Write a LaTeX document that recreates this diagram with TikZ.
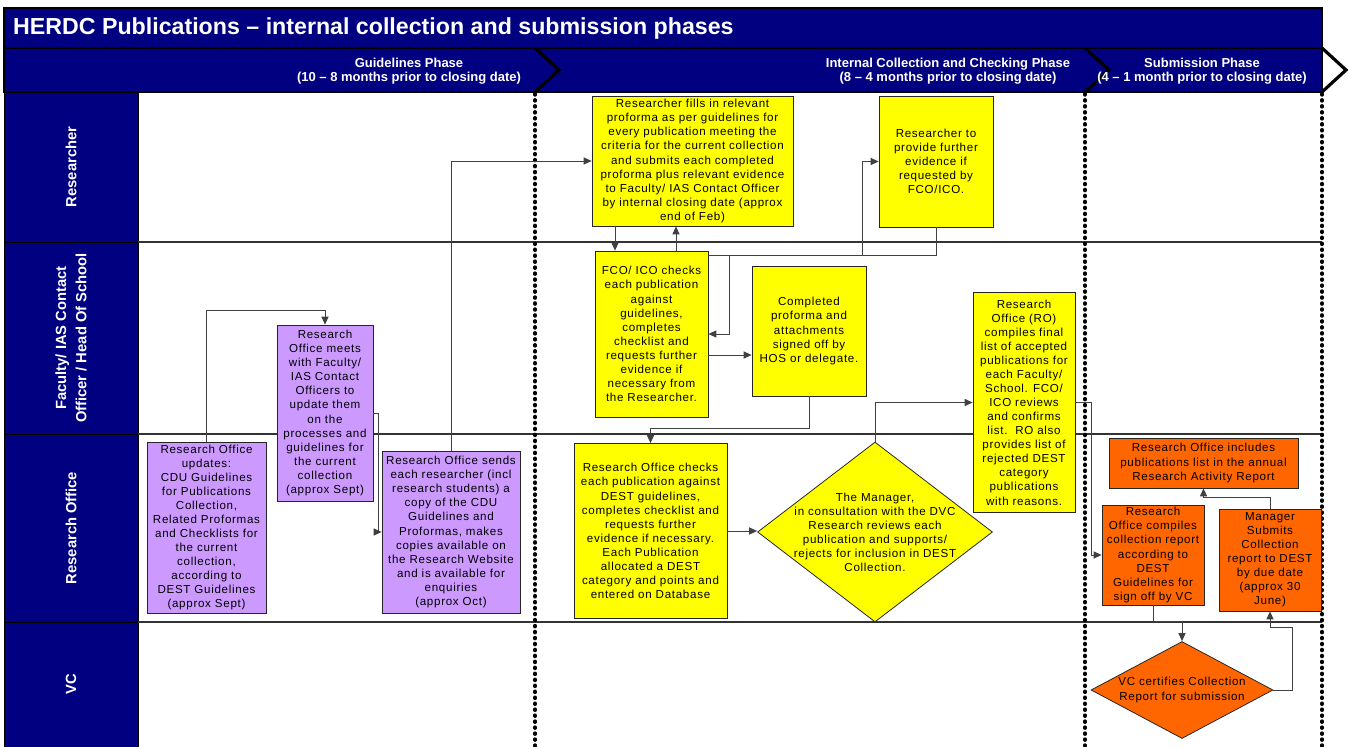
\documentclass[tikz,border=0pt]{standalone}
\usepackage{fontspec}
\setmainfont{Liberation Sans}
\newfontfamily\boxfamily[LetterSpace=6]{Liberation Sans}
\usepackage{xcolor}
\usetikzlibrary{arrows.meta,shapes.geometric}
\definecolor{hnavy}{RGB}{0,0,128}
\definecolor{ropurple}{RGB}{204,153,255}
\definecolor{fyellow}{RGB}{255,255,0}
\definecolor{sorange}{RGB}{255,102,0}
\newcommand\flowfont{\boxfamily\fontsize{6.6}{8}\selectfont}

\begin{document}
\begin{tikzpicture}[x=0.02cm,y=-0.02cm]
  \tikzset{task/.style = {shape=rectangle,draw=black!85,line width=0.45pt,align=center,inner sep=0pt,font=\flowfont}}
  \tikzset{rotask/.style = {task,fill=ropurple}}
  \tikzset{ytask/.style = {task,fill=fyellow}}
  \tikzset{otask/.style = {task,fill=sorange}}
  \tikzset{decision/.style = {shape=diamond,draw=black!85,line width=0.45pt,inner sep=0pt}}
  \tikzset{lanehead/.style = {shape=rectangle,draw=black,fill=hnavy,text=white,align=center,rotate=90,font=\bfseries\fontsize{8.4}{11.5}\selectfont}}
  \tikzset{phase/.style = {text=white,align=center,font=\bfseries\fontsize{7.4}{8.2}\selectfont}}
  \tikzset{edge/.style = {draw=black!75,line width=0.5pt,-{Triangle[length=4.5pt,width=4pt]}}}
  \tikzset{phaseline/.style = {line width=2.1pt,dash pattern=on 0.5pt off 2.9pt,line cap=round}}

  \useasboundingbox (0,0) rectangle (1349,747);

  % header
  \fill[hnavy,draw=black,line width=0.6pt] (4,8) rectangle (1322,48);
  \node[anchor=west,text=white,font=\bfseries\fontsize{13.2}{15}\selectfont] (title) at (7,29) {HERDC Publications -- internal collection and submission phases};
  \fill[hnavy,draw=black,line width=0.6pt] (4,48) rectangle (1322,92);
  \foreach \px in {535,1085,1322}
    \draw[line width=1.8pt] (\px,48) -- (\px+24,70) -- (\px,92);
  \node[phase] (ph1) at (409,71) {Guidelines Phase\\(10 -- 8 months prior to closing date)};
  \node[phase] (ph2) at (948,71) {Internal Collection and Checking Phase\\(8 -- 4 months prior to closing date)};
  \node[phase] (ph3) at (1202,71) {Submission Phase\\(4 -- 1 month prior to closing date)};

  % lanes
  \node[lanehead,minimum width=3.0cm,minimum height=2.68cm] (lres) at (71,167) {Researcher};
  \node[lanehead,minimum width=3.84cm,minimum height=2.68cm] (lfac) at (71,338) {Faculty/ IAS Contact\\Officer / Head Of School};
  \node[lanehead,minimum width=3.76cm,minimum height=2.68cm] (lro) at (71,528) {Research Office};
  \node[lanehead,minimum width=2.5cm,minimum height=2.68cm] (lvc) at (71,684.5) {VC};
  \foreach \ly in {242,434,622}
    \draw[black!80,line width=0.6pt] (138,\ly) -- (1322,\ly);
  \foreach \px in {535,1085,1322}
    \draw[phaseline] (\px,94) -- (\px,747);

  % guidelines phase
  \node[rotask,minimum width=2.38cm,minimum height=3.42cm] (upd) at (206.5,527.5) {Research Office\\updates:\\CDU Guidelines\\for Publications\\Collection,\\Related Proformas\\and Checklists for\\the current\\collection,\\according to\\DEST Guidelines\\(approx Sept)};
  \node[rotask,minimum width=1.92cm,minimum height=3.52cm] (meet) at (325,413) {Research\\Office meets\\with Faculty/\\IAS Contact\\Officers to\\update them\\on the\\processes and\\guidelines for\\the current\\collection\\(approx Sept)};
  \node[rotask,minimum width=2.76cm,minimum height=3.24cm] (send) at (451,532) {Research Office sends\\each researcher (incl\\research students) a\\copy of the CDU\\Guidelines and\\Proformas, makes\\copies available on\\the Research Website\\and is available for\\enquiries\\(approx Oct)};

  % internal collection and checking phase
  \node[ytask,minimum width=4.02cm,minimum height=2.6cm] (fill) at (692.5,161) {Researcher fills in relevant\\proforma as per guidelines for\\every publication meeting the\\criteria for the current collection\\and submits each completed\\proforma plus relevant evidence\\to Faculty/ IAS Contact Officer\\by internal closing date (approx\\end of Feb)};
  \node[ytask,minimum width=2.28cm,minimum height=2.62cm] (prov) at (936,161.5) {Researcher to\\provide further\\evidence if\\requested by\\FCO/ICO.};
  \node[ytask,minimum width=2.26cm,minimum height=3.32cm] (fco) at (651.5,334) {FCO/ ICO checks\\each publication\\against\\guidelines,\\completes\\checklist and\\requests further\\evidence if\\necessary from\\the Researcher.};
  \node[ytask,minimum width=2.28cm,minimum height=2.6cm] (comp) at (809,331) {Completed\\proforma and\\attachments\\signed off by\\HOS or delegate.};
  \node[ytask,minimum width=2.04cm,minimum height=4.4cm] (fin) at (1024,402.5) {Research\\Office (RO)\\compiles final\\list of accepted\\publications for\\each Faculty/\\School. FCO/\\ICO reviews\\and confirms\\list.\ \ RO also\\provides list of\\rejected DEST\\category\\publications\\with reasons.};
  \node[ytask,minimum width=3.06cm,minimum height=3.5cm] (chk) at (650.5,531) {Research Office checks\\each publication against\\DEST guidelines,\\completes checklist and\\requests further\\evidence if necessary.\\Each Publication\\allocated a DEST\\category and points and\\entered on Database};
  \node[decision,fill=fyellow,minimum width=4.7cm,minimum height=3.6cm] (mgr) at (875,532) {};
  \node[align=center,font=\flowfont,inner sep=0pt] (mgrtext) at (mgr.center) {The Manager,\\in consultation with the DVC\\Research reviews each\\publication and supports/\\rejects for inclusion in DEST\\Collection.};

  % submission phase
  \node[otask,minimum width=3.78cm,minimum height=1.0cm] (inc) at (1203.5,463) {Research Office includes\\publications list in the annual\\Research Activity Report};
  \node[otask,minimum width=2.04cm,minimum height=2.0cm] (rep) at (1153,555) {Research\\Office compiles\\collection report\\according to\\DEST\\Guidelines for\\sign off by VC};
  \node[otask,minimum width=2.04cm,minimum height=2.04cm] (sub) at (1270,560) {Manager\\Submits\\Collection\\report to DEST\\by due date\\(approx 30\\June)};
  \node[decision,fill=sorange,minimum width=3.64cm,minimum height=1.94cm] (vc) at (1182,690) {};
  \node[align=center,font=\flowfont,inner sep=0pt] (vctext) at (vc.center) {VC certifies Collection\\Report for submission};

  % connectors
  \draw[edge] (upd.north) -- (upd.north |- 0,310) -| (meet.north);
  \draw[edge] (meet.east) -- ++(5,0) |- (send.west);
  \draw[edge] (send.north) |- (fill.west);
  \draw[edge] (fill.south -| 615,0) -- (fco.north -| 615,0);
  \draw[edge] (fco.north -| 676,0) -- (fill.south -| 676,0);
  \draw[edge] (fco.east |- 0,255) -- (862,255) |- (prov.west);
  \draw[edge] (prov.south) |- (729,255) |- (fco.east);
  \draw[edge] (fco.east |- 0,355) -- (comp.west |- 0,355);
  \draw[edge] (comp.south) |- (chk.north |- 0,428) -- (chk.north);
  \draw[edge] (chk.east) -- (chk.east -| mgr.west);
  \draw[edge] (mgr.north) |- (fin.west);
  \draw[edge] (fin.east) -- ++(16,0) |- (rep.west);
  \draw[edge] (rep.south) -- ++(0,16) -| (vc.north);
  \draw[edge] (vc.east) -- ++(19,0) -- ++(0,-63) -| (sub.south);
  \draw[edge] (sub.north) -- ++(0,-11) -| (inc.south);
\end{tikzpicture}
\end{document}
